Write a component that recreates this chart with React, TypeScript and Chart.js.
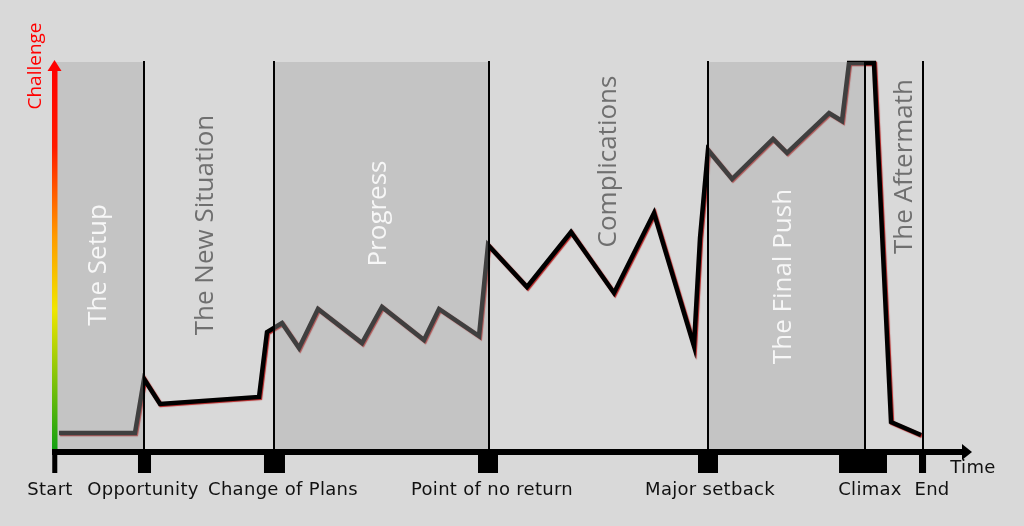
import React, { useEffect, useRef } from "react";
import { Chart, registerables } from "chart.js";

Chart.register(...registerables);

// Story time (0..100 along the time axis) and challenge level (0..100)
const storyTime = [0.44, 8.72, 9.71, 11.45, 22.25, 23.12, 24.75, 26.61, 28.68, 33.48, 35.66, 40.24, 41.88, 46.24, 47.22, 51.47, 56.27, 60.96, 65.32, 69.68, 70.34, 71.21, 73.83, 78.3, 79.83, 84.41, 85.82, 86.59, 89.31, 91.17, 94.44];
const challenge = [4.13, 4.13, 18.09, 11.63, 13.44, 30.23, 32.56, 26.1, 36.18, 27.39, 36.69, 28.17, 36.18, 29.2, 52.71, 41.86, 56.07, 40.31, 60.98, 26.61, 54.52, 77.26, 69.77, 80.1, 76.49, 86.82, 84.75, 99.74, 99.74, 6.98, 3.62];

// Phase boundaries (vertical lines) and shaded phases
const phaseBoundaries = [9.71, 23.88, 47.33, 71.21, 88.33, 94.66];
const shadedStart = [0, 23.88, 71.21];
const shadedEnd = [9.71, 47.33, 88.33];

// Phase titles
const phaseNames = ["The Setup", "The New Situation", "Progress", "Complications", "The Final Push", "The Aftermath"];
const phaseLabelTime = [5.56, 17.23, 36.1, 61.18, 80.26, 93.46];
const phaseLabelLevel = [47.55, 57.88, 60.85, 74.29, 44.57, 73.0];
const phaseLabelOnShade = [true, false, true, false, true, false];

// Events on the time axis
const eventNames = ["Start", "Opportunity", "Change of Plans", "Point of no return", "Major setback", "Climax", "End"];
const eventStart = [-0.3, 9.05, 22.79, 46.13, 70.12, 85.5, 94.22];
const eventEnd = [0.25, 10.47, 25.08, 48.31, 72.3, 90.73, 94.99];
const eventLabelTime = [-0.55, 9.6, 24.86, 47.66, 71.43, 88.88, 95.64];

const BG = "#d9d9d9";

const storyPlugin = {
  id: "story",
  beforeDraw(chart: any) {
    const { ctx, width, height } = chart;
    ctx.save();
    ctx.fillStyle = BG;
    ctx.fillRect(0, 0, width, height);
    ctx.restore();
  },
  beforeDatasetDraw(chart: any) {
    const ctx = chart.ctx;
    ctx.save();
    ctx.shadowColor = "rgba(170,0,0,0.85)";
    ctx.shadowOffsetX = 1;
    ctx.shadowOffsetY = 1;
    ctx.shadowBlur = 1;
  },
  afterDatasetDraw(chart: any) {
    chart.ctx.restore();
  },
  afterDatasetsDraw(chart: any) {
    const { ctx, chartArea } = chart;
    const xs = chart.scales.x;
    const ys = chart.scales.y;
    const { top, bottom, left, right } = chartArea;
    ctx.save();
    // shaded phases (translucent overlay so the line shows through darker)
    ctx.fillStyle = "rgba(163,163,163,0.39)";
    for (let i = 0; i < shadedStart.length; i++) {
      const x0 = xs.getPixelForValue(shadedStart[i]);
      const x1 = xs.getPixelForValue(shadedEnd[i]);
      ctx.fillRect(x0, top, x1 - x0, bottom - top);
    }
    // phase boundaries
    ctx.strokeStyle = "#000";
    ctx.lineWidth = 2;
    for (const b of phaseBoundaries) {
      const x = Math.round(xs.getPixelForValue(b));
      ctx.beginPath();
      ctx.moveTo(x, top - 1);
      ctx.lineTo(x, bottom);
      ctx.stroke();
    }
    // phase titles
    ctx.font = '26px "Open Sans"';
    ctx.textAlign = "center";
    ctx.textBaseline = "alphabetic";
    for (let i = 0; i < phaseNames.length; i++) {
      ctx.save();
      ctx.translate(xs.getPixelForValue(phaseLabelTime[i]), ys.getPixelForValue(phaseLabelLevel[i]));
      ctx.rotate(-Math.PI / 2);
      ctx.fillStyle = phaseLabelOnShade[i] ? "#f7f7f7" : "#6f6f6f";
      ctx.fillText(phaseNames[i], 0, 0);
      ctx.restore();
    }
    // Y axis gradient bar with arrow
    const grad = ctx.createLinearGradient(0, bottom, 0, top);
    grad.addColorStop(0, "#12a012");
    grad.addColorStop(0.36, "#f0e600");
    grad.addColorStop(0.55, "#ff9a00");
    grad.addColorStop(0.78, "#ff1a00");
    grad.addColorStop(1, "#ff0000");
    ctx.fillStyle = grad;
    ctx.fillRect(left - 3, top + 8, 5.5, bottom - top - 8 + 3);
    ctx.beginPath();
    ctx.moveTo(left - 0.5, top - 2);
    ctx.lineTo(left + 6.5, top + 9);
    ctx.lineTo(left - 7.5, top + 9);
    ctx.closePath();
    ctx.fillStyle = "#ff0000";
    ctx.fill();
    // Challenge label
    ctx.save();
    ctx.translate(left - 14.5, top + 4);
    ctx.rotate(-Math.PI / 2);
    ctx.font = '19px "Open Sans"';
    ctx.fillStyle = "#ff0000";
    ctx.textAlign = "center";
    ctx.fillText("Challenge", 0, 0);
    ctx.restore();
    // X axis bar with arrow
    ctx.fillStyle = "#000";
    ctx.fillRect(left - 3, bottom, right - 10 - (left - 3), 6);
    ctx.beginPath();
    ctx.moveTo(right, bottom + 3);
    ctx.lineTo(right - 10, bottom - 5);
    ctx.lineTo(right - 10, bottom + 11);
    ctx.closePath();
    ctx.fill();
    // event blocks
    for (let i = 0; i < eventNames.length; i++) {
      const x0 = xs.getPixelForValue(eventStart[i]);
      const x1 = xs.getPixelForValue(eventEnd[i]);
      ctx.fillRect(x0, bottom, x1 - x0, 24);
    }
    // event labels
    ctx.font = '18px "DejaVu Sans"';
    (ctx as any).letterSpacing = "0.3px";
    ctx.fillStyle = "#111";
    ctx.textAlign = "center";
    ctx.textBaseline = "alphabetic";
    for (let i = 0; i < eventNames.length; i++) {
      ctx.fillText(eventNames[i], xs.getPixelForValue(eventLabelTime[i]), bottom + 46);
    }
    ctx.fillText("Time", right + 1, bottom + 24);
    (ctx as any).letterSpacing = "0px";
    ctx.restore();
  },
};

export default function App() {
  const ref = useRef<HTMLCanvasElement>(null);
  useEffect(() => {
    if (!ref.current) return;
    const chart = new Chart(ref.current, {
      type: "line",
      data: {
        datasets: [
          {
            data: storyTime.map((t, i) => ({ x: t, y: challenge[i] })),
            borderColor: "#000",
            borderWidth: 4.5,
            pointRadius: 0,
            tension: 0,
            fill: false,
            borderJoinStyle: "miter",
            clip: false as any,
          },
        ],
      },
      options: {
        animation: false,
        responsive: false,
        events: [],
        layout: { padding: { left: 55, right: 52, top: 62, bottom: 77 } },
        scales: {
          x: { type: "linear", min: 0, max: 100, display: false },
          y: { type: "linear", min: 0, max: 100, display: false },
        },
        plugins: { legend: { display: false }, tooltip: { enabled: false } },
      },
      plugins: [storyPlugin],
    });
    return () => chart.destroy();
  }, []);
  return (
    <div style={{ position: "absolute", left: 0, top: 0, width: 1024, height: 526, background: BG }}>
      <canvas ref={ref} width={1024} height={526} style={{ display: "block" }} />
    </div>
  );
}
